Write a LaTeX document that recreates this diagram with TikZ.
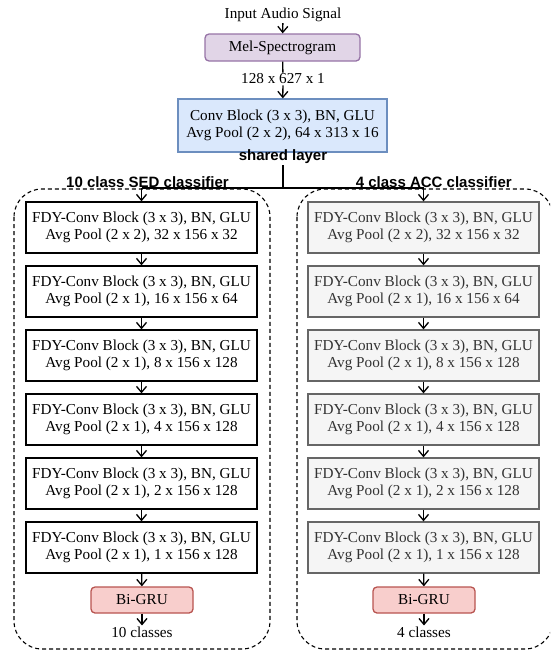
\documentclass[tikz,border=0pt]{standalone}
\usepackage{fontspec}
\setmainfont{Liberation Serif}
\newfontfamily\hdfont{Liberation Sans}
\usetikzlibrary{arrows.meta}
\definecolor{melfill}{HTML}{E1D5E7}
\definecolor{meldraw}{HTML}{9673A6}
\definecolor{convfill}{HTML}{DAE8FC}
\definecolor{convdraw}{HTML}{6C8EBF}
\definecolor{grufill}{HTML}{F8CECC}
\definecolor{grudraw}{HTML}{B85450}
\definecolor{grayfill}{HTML}{F5F5F5}
\definecolor{graydraw}{HTML}{666666}
\definecolor{graytext}{HTML}{333333}
\tikzset{
  txt/.style={font=\fontsize{15.2}{16.5}\selectfont, align=center, inner sep=1pt},
  hdr/.style={font=\hdfont\bfseries\fontsize{15}{17}\selectfont, inner sep=1pt},
  blk/.style={txt, draw=black, fill=white, line width=1.3pt, minimum width=231pt, minimum height=51pt, inner sep=0pt},
  gblk/.style={blk, draw=graydraw, fill=grayfill, text=graytext},
  mel/.style={txt, draw=meldraw, fill=melfill, line width=1.3pt, rounded corners=4pt, minimum width=155pt, minimum height=27pt},
  conv/.style={txt, draw=convdraw, fill=convfill, line width=1.3pt, minimum width=209pt, minimum height=53pt},
  gru/.style={txt, draw=grudraw, fill=grufill, line width=1.3pt, rounded corners=4pt, minimum width=102pt, minimum height=26pt},
  arr/.style={line width=1.3pt, -{Straight Barb[length=6pt,width=10pt,line width=1.3pt]}},
  ln/.style={line width=1.3pt},
  cont/.style={draw=black, line width=1.1pt, dash pattern=on 4pt off 3pt, rounded corners=28pt}
}
\begin{document}
\begin{tikzpicture}[x=1pt,y=-1pt]
\useasboundingbox (0,0) rectangle (550,651);
\clip (0,0) rectangle (550,651);
% containers
\draw[cont] (14,189) rectangle (270,649);
\draw[cont] (297,189) rectangle (553,649);
% top part
\node[txt] (in) at (283,15) {Input Audio Signal};
\node[mel] (mel) at (282.5,47.5) {Mel-Spectrogram};
\node[txt, fill=white] (dim) at (283,79) {128 x 627 x 1};
\node[conv] (conv) at (282.5,125.5) {Conv Block (3 x 3), BN, GLU\\Avg Pool (2 x 2), 64 x 313 x 16};
\node[hdr] (sh) at (283,157) {shared layer};
\coordinate (j) at (283,188);
\coordinate (jl) at (141.5,188);
\coordinate (jr) at (423.5,188);
\draw[arr] (in) -- (mel);
\draw[ln] (mel) -- (dim);
\draw[arr] (dim) -- (conv);
\draw[ln] (sh) -- (j);
\draw[ln] (jl) -- (jr);
\node[hdr] (hl) at (147.5,182.5) {10 class SED classifier};
\node[hdr] (hr) at (433.8,182.5) {4 class ACC classifier};
% left column
\node[blk] (l1) at (141.5,227.5) {FDY-Conv Block (3 x 3), BN, GLU\\Avg Pool (2 x 2), 32 x 156 x 32};
\node[blk] (l2) at (141.5,291.5) {FDY-Conv Block (3 x 3), BN, GLU\\Avg Pool (2 x 1), 16 x 156 x 64};
\node[blk] (l3) at (141.5,355.5) {FDY-Conv Block (3 x 3), BN, GLU\\Avg Pool (2 x 1), 8 x 156 x 128};
\node[blk] (l4) at (141.5,419.5) {FDY-Conv Block (3 x 3), BN, GLU\\Avg Pool (2 x 1), 4 x 156 x 128};
\node[blk] (l5) at (141.5,483.5) {FDY-Conv Block (3 x 3), BN, GLU\\Avg Pool (2 x 1), 2 x 156 x 128};
\node[blk] (l6) at (141.5,547.5) {FDY-Conv Block (3 x 3), BN, GLU\\Avg Pool (2 x 1), 1 x 156 x 128};
\node[gru] (lg) at (142,600) {Bi-GRU};
\node[txt] (lo) at (142,632) {10 classes};
% right column
\node[gblk] (r1) at (423.5,227.5) {FDY-Conv Block (3 x 3), BN, GLU\\Avg Pool (2 x 2), 32 x 156 x 32};
\node[gblk] (r2) at (423.5,291.5) {FDY-Conv Block (3 x 3), BN, GLU\\Avg Pool (2 x 1), 16 x 156 x 64};
\node[gblk] (r3) at (423.5,355.5) {FDY-Conv Block (3 x 3), BN, GLU\\Avg Pool (2 x 1), 8 x 156 x 128};
\node[gblk] (r4) at (423.5,419.5) {FDY-Conv Block (3 x 3), BN, GLU\\Avg Pool (2 x 1), 4 x 156 x 128};
\node[gblk] (r5) at (423.5,483.5) {FDY-Conv Block (3 x 3), BN, GLU\\Avg Pool (2 x 1), 2 x 156 x 128};
\node[gblk] (r6) at (423.5,547.5) {FDY-Conv Block (3 x 3), BN, GLU\\Avg Pool (2 x 1), 1 x 156 x 128};
\node[gru] (rg) at (424,600) {Bi-GRU};
\node[txt] (ro) at (424,632) {4 classes};
% arrows
\draw[arr] (jl) -- (l1);
\draw[arr] (jr) -- (r1);
\foreach \c in {l,r}{
  \draw[arr] (\c1) -- (\c2);
  \draw[arr] (\c2) -- (\c3);
  \draw[arr] (\c3) -- (\c4);
  \draw[arr] (\c4) -- (\c5);
  \draw[arr] (\c5) -- (\c6);
  \draw[arr] (\c6) -- (\c g);
  \draw[arr] (\c g) -- (\c o);
}
\end{tikzpicture}
\end{document}
